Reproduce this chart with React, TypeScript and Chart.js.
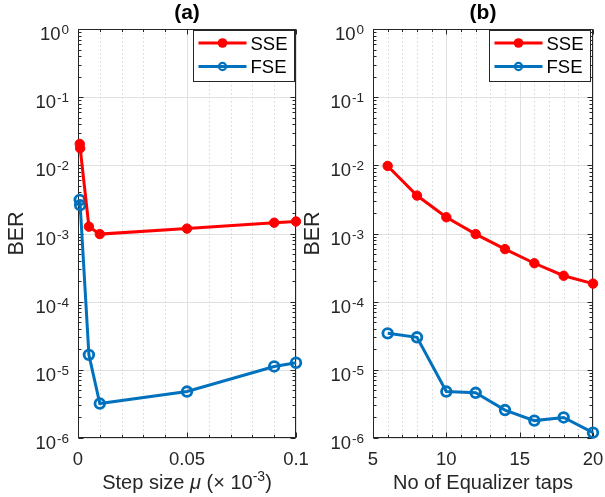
import React, { useEffect, useRef } from "react";
import { Chart, registerables } from "chart.js";
Chart.register(...registerables);

// ---- data ----
const muValues = [0.0008, 0.001, 0.005, 0.01, 0.05, 0.09, 0.1];
const sseMu = [0.0206, 0.0178, 1.26e-3, 0.98e-3, 1.18e-3, 1.44e-3, 1.5e-3];
const fseMu = [3.1e-3, 2.6e-3, 1.66e-5, 3.2e-6, 4.8e-6, 1.12e-5, 1.27e-5];

const taps = [6, 8, 10, 12, 14, 16, 18, 20];
const sseTaps = [9.8e-3, 3.6e-3, 1.73e-3, 9.8e-4, 5.9e-4, 3.66e-4, 2.4e-4, 1.84e-4];
const fseTaps = [3.43e-5, 3.0e-5, 4.8e-6, 4.6e-6, 2.57e-6, 1.8e-6, 2.0e-6, 1.2e-6];

const muTicks = [0, 0.05, 0.1];
const muTickLabels = ["0", "0.05", "0.1"];
const tapTicks = [5, 10, 15, 20];
const tapTickLabels = ["5", "10", "15", "20"];
const berExponents = [0, -1, -2, -3, -4, -5, -6];
const seriesNames = ["SSE", "FSE"];

const FONT = "'Liberation Sans', Arial, sans-serif";
const TXT = "#262626";
const RED = "#ff0000";
const BLUE = "#0072bd";

type Piece = { t: string; size: number; italic?: boolean; rise?: number };

interface PanelCfg {
  left: number;
  width: number;
  yAxisWidth: number;
  rightPad: number;
  xs: number[];
  sse: number[];
  fse: number[];
  xMin: number;
  xMax: number;
  xMinorStep: number;
  xTicks: number[];
  xTickLabels: string[];
  title: string;
  xTitle: Piece[];
  yTitleX: number;
  legendRightGap: number;
}

function makePlugin(cfg: PanelCfg) {
  return {
    id: "matlabAxes",
    beforeDatasetsDraw(chart: any) {
      const ctx: CanvasRenderingContext2D = chart.ctx;
      const a = chart.chartArea;
      const xs = chart.scales.x;
      const ys = chart.scales.y;
      ctx.save();
      ctx.fillStyle = "#fff";
      ctx.fillRect(a.left, a.top, a.right - a.left, a.bottom - a.top);
      // minor vertical dotted grid
      ctx.strokeStyle = "rgba(38,38,38,0.2)";
      ctx.lineWidth = 1;
      ctx.setLineDash([1.5, 2.5]);
      const n = Math.round((cfg.xMax - cfg.xMin) / cfg.xMinorStep);
      for (let i = 1; i < n; i++) {
        const v = cfg.xMin + i * cfg.xMinorStep;
        if (cfg.xTicks.some((t) => Math.abs(t - v) < 1e-9)) continue;
        const px = Math.round(xs.getPixelForValue(v)) + 0.5;
        ctx.beginPath();
        ctx.moveTo(px, a.top);
        ctx.lineTo(px, a.bottom);
        ctx.stroke();
      }
      ctx.setLineDash([]);
      // major grid
      ctx.strokeStyle = "#e0e0e0";
      for (const t of cfg.xTicks) {
        const px = Math.round(xs.getPixelForValue(t)) + 0.5;
        ctx.beginPath();
        ctx.moveTo(px, a.top);
        ctx.lineTo(px, a.bottom);
        ctx.stroke();
      }
      for (const e of berExponents) {
        const py = Math.round(ys.getPixelForValue(Math.pow(10, e))) + 0.5;
        ctx.beginPath();
        ctx.moveTo(a.left, py);
        ctx.lineTo(a.right, py);
        ctx.stroke();
      }
      // axes box
      ctx.strokeStyle = TXT;
      ctx.lineWidth = 1;
      const L = Math.round(a.left) + 0.5;
      const R = Math.round(a.right) - 0.5;
      const T = Math.round(a.top) + 0.5;
      const B = Math.round(a.bottom) - 0.5;
      ctx.strokeRect(L, T, R - L, B - T);
      // ticks
      ctx.beginPath();
      for (const t of cfg.xTicks) {
        const px = Math.round(xs.getPixelForValue(t)) + 0.5;
        ctx.moveTo(px, B);
        ctx.lineTo(px, B - 5);
        ctx.moveTo(px, T);
        ctx.lineTo(px, T + 5);
      }
      for (let i = 1; i < n; i++) {
        const v = cfg.xMin + i * cfg.xMinorStep;
        const px = Math.round(xs.getPixelForValue(v)) + 0.5;
        ctx.moveTo(px, B);
        ctx.lineTo(px, B - 2.5);
        ctx.moveTo(px, T);
        ctx.lineTo(px, T + 2.5);
      }
      for (const e of berExponents) {
        const py = Math.round(ys.getPixelForValue(Math.pow(10, e))) + 0.5;
        ctx.moveTo(L, py);
        ctx.lineTo(L + 5, py);
        ctx.moveTo(R, py);
        ctx.lineTo(R - 5, py);
        if (e > -6) {
          for (let m = 2; m <= 9; m++) {
            const pm = Math.round(ys.getPixelForValue(m * Math.pow(10, e - 1))) + 0.5;
            ctx.moveTo(L, pm);
            ctx.lineTo(L + 3, pm);
            ctx.moveTo(R, pm);
            ctx.lineTo(R - 3, pm);
          }
        }
      }
      ctx.stroke();

      // tick labels
      ctx.fillStyle = TXT;
      ctx.textBaseline = "alphabetic";
      for (const e of berExponents) {
        const py = ys.getPixelForValue(Math.pow(10, e));
        const ex = String(e);
        ctx.font = `13.5px ${FONT}`;
        const w2 = ctx.measureText(ex).width;
        ctx.font = `18.5px ${FONT}`;
        const w1 = ctx.measureText("10").width;
        const right = a.left - 9;
        ctx.textAlign = "left";
        ctx.fillText("10", right - w2 - w1 - 1, py + 11);
        ctx.font = `13.5px ${FONT}`;
        ctx.fillText(ex, right - w2, py + 5);
      }
      ctx.font = `18.5px ${FONT}`;
      ctx.textAlign = "center";
      cfg.xTicks.forEach((t, i) => {
        const px = xs.getPixelForValue(t);
        ctx.fillText(cfg.xTickLabels[i], px, a.bottom + 27);
      });

      // x title
      let total = 0;
      for (const p of cfg.xTitle) {
        ctx.font = `${p.italic ? "italic " : ""}${p.size}px ${FONT}`;
        total += ctx.measureText(p.t).width;
      }
      let cx = (a.left + a.right) / 2 - total / 2;
      ctx.textAlign = "left";
      for (const p of cfg.xTitle) {
        ctx.font = `${p.italic ? "italic " : ""}${p.size}px ${FONT}`;
        ctx.fillText(p.t, cx, 489 - (p.rise || 0));
        cx += ctx.measureText(p.t).width;
      }

      // y title
      ctx.save();
      ctx.translate(cfg.yTitleX, (a.top + a.bottom) / 2);
      ctx.rotate(-Math.PI / 2);
      ctx.font = `21.5px ${FONT}`;
      ctx.textAlign = "center";
      ctx.fillText("BER", 0, 0);
      ctx.restore();

      // title
      ctx.font = `bold 21px ${FONT}`;
      ctx.textAlign = "center";
      ctx.fillStyle = "#000";
      ctx.fillText(cfg.title, (a.left + a.right) / 2, 19);
      ctx.restore();
    },
    afterDatasetsDraw(chart: any) {
      const ctx: CanvasRenderingContext2D = chart.ctx;
      const a = chart.chartArea;
      ctx.save();
      const bw = 101;
      const bh = 51;
      const bx = Math.round(a.right - cfg.legendRightGap - bw) + 0.5;
      const by = Math.round(a.top) + 1.5;
      ctx.fillStyle = "#fff";
      ctx.fillRect(bx, by, bw, bh);
      ctx.strokeStyle = TXT;
      ctx.lineWidth = 1;
      ctx.strokeRect(bx, by, bw, bh);
      const rows = [
        { name: seriesNames[0], color: RED, filled: true, y: by + 12.5 },
        { name: seriesNames[1], color: BLUE, filled: false, y: by + 36 },
      ];
      for (const r of rows) {
        ctx.strokeStyle = r.color;
        ctx.lineWidth = 3;
        ctx.beginPath();
        ctx.moveTo(bx + 5, r.y);
        ctx.lineTo(bx + 53, r.y);
        ctx.stroke();
        ctx.beginPath();
        if (r.filled) {
          ctx.fillStyle = r.color;
          ctx.arc(bx + 29, r.y, 4.8, 0, Math.PI * 2);
          ctx.fill();
        } else {
          ctx.lineWidth = 2.2;
          ctx.arc(bx + 29, r.y, 3.6, 0, Math.PI * 2);
          ctx.stroke();
        }
        ctx.fillStyle = "#000";
        ctx.font = `18.5px ${FONT}`;
        ctx.textAlign = "left";
        ctx.textBaseline = "alphabetic";
        ctx.fillText(r.name, bx + 57, r.y + 6.5);
      }
      ctx.restore();
    },
  };
}

function Panel({ cfg }: { cfg: PanelCfg }) {
  const ref = useRef<HTMLCanvasElement | null>(null);
  useEffect(() => {
    if (!ref.current) return;
    const chart = new Chart(ref.current, {
      type: "line",
      data: {
        datasets: [
          {
            label: seriesNames[0],
            data: cfg.xs.map((x, i) => ({ x, y: cfg.sse[i] })),
            borderColor: RED,
            backgroundColor: RED,
            borderWidth: 3,
            pointRadius: 4.7,
            pointBorderWidth: 1,
            pointBackgroundColor: RED,
            pointBorderColor: RED,
            clip: false as any,
          },
          {
            label: seriesNames[1],
            data: cfg.xs.map((x, i) => ({ x, y: cfg.fse[i] })),
            borderColor: BLUE,
            backgroundColor: "rgba(0,0,0,0)",
            borderWidth: 3,
            pointRadius: 4.8,
            pointBorderWidth: 2.8,
            pointBackgroundColor: "rgba(0,0,0,0)",
            pointBorderColor: BLUE,
            clip: false as any,
          },
        ],
      },
      options: {
        responsive: false,
        animation: false,
        events: [],
        layout: { padding: { top: 29, right: cfg.rightPad, left: 0, bottom: 0 } },
        plugins: {
          legend: { display: false },
          title: { display: false },
          tooltip: { enabled: false },
        },
        elements: { line: { tension: 0 } },
        scales: {
          x: {
            type: "linear",
            min: cfg.xMin,
            max: cfg.xMax,
            ticks: { display: false },
            grid: { display: false },
            border: { display: false },
            afterFit: (s: any) => {
              s.height = 59;
              s.paddingLeft = 0;
              s.paddingRight = 0;
            },
          },
          y: {
            type: "logarithmic",
            min: 1e-6,
            max: 1,
            ticks: { display: false },
            grid: { display: false },
            border: { display: false },
            afterFit: (s: any) => {
              s.width = cfg.yAxisWidth;
              s.paddingTop = 0;
              s.paddingBottom = 0;
            },
          },
        },
      },
      plugins: [makePlugin(cfg) as any],
    });
    return () => chart.destroy();
  }, [cfg]);
  return (
    <canvas
      ref={ref}
      width={cfg.width}
      height={497}
      style={{ position: "absolute", left: cfg.left, top: 0, width: cfg.width, height: 497 }}
    />
  );
}

const panelA: PanelCfg = {
  left: 0,
  width: 320,
  yAxisWidth: 78,
  rightPad: 24,
  xs: muValues,
  sse: sseMu,
  fse: fseMu,
  xMin: 0,
  xMax: 0.1,
  xMinorStep: 0.01,
  xTicks: muTicks,
  xTickLabels: muTickLabels,
  title: "(a)",
  xTitle: [
    { t: "Step size ", size: 20 },
    { t: "μ", size: 20, italic: true },
    { t: " (× 10", size: 20 },
    { t: "-3", size: 14, rise: 8 },
    { t: ")", size: 20 },
  ],
  yTitleX: 23,
  legendRightGap: 2,
};

const panelB: PanelCfg = {
  left: 302,
  width: 303,
  yAxisWidth: 71,
  rightPad: 12,
  xs: taps,
  sse: sseTaps,
  fse: fseTaps,
  xMin: 5,
  xMax: 20,
  xMinorStep: 1,
  xTicks: tapTicks,
  xTickLabels: tapTickLabels,
  title: "(b)",
  xTitle: [{ t: "No of Equalizer taps", size: 20 }],
  yTitleX: 17,
  legendRightGap: 3,
};

export default function App() {
  return (
    <div style={{ position: "fixed", left: 0, top: 0, width: 605, height: 497, background: "#fff" }}>
      <Panel cfg={panelA} />
      <Panel cfg={panelB} />
    </div>
  );
}
